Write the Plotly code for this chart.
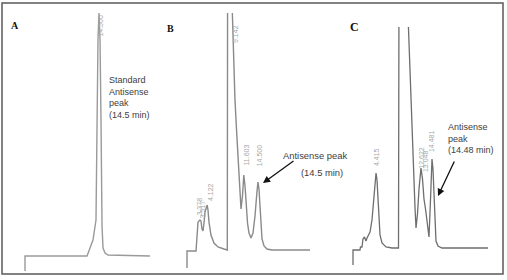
import plotly.graph_objects as go

# ---------------- data (retention time in min, detector signal in mV) ----------------
a_time = [0.0, 0.0, 12.15, 12.74, 13.32, 13.91, 14.11, 14.30, 14.50, 14.70, 14.89, 15.09, 15.29, 15.68, 16.26, 24.49]
a_signal = [-15, 0, 0, 8, 16, 36, 136, 216, 243, 216, 136, 30, 8, 3, 1, 0]

b_time = [0.0, 0.0, 1.84, 2.04, 2.25, 2.65, 2.86, 3.06, 3.27, 3.47, 3.68, 4.12, 4.29, 4.49, 4.90, 5.51,
          6.33, 7.56, 8.17, 8.23, 8.29, 9.142, 9.25, 9.46, 9.60, 9.80, 10.15, 10.48, 10.82, 11.03, 11.33,
          11.54, 11.603, 11.85, 12.05, 12.36, 12.66, 13.07, 13.48, 13.89, 14.30, 14.50, 14.70, 14.91,
          15.11, 15.32, 15.73, 16.34, 17.36, 25.12]
b_signal = [-17, 0, 0, 11, 29, 31, 30, 22, 20, 28, 39, 46, 41, 29, 16, 8,
            4, 2, 1, 1, 260, 900, 240, 201, 181, 151, 118, 84, 51, 42, 55,
            72, 76, 65, 46, 28, 18, 13, 18, 35, 60, 69, 62, 45,
            25, 12, 5, 2, 1, 1]

c_time = [0.0, 0.0, 1.28, 1.37, 1.65, 1.83, 2.11, 2.38, 2.57, 2.84, 3.12, 3.48, 3.85, 4.03, 4.22, 4.40,
          4.58, 4.77, 4.95, 5.32, 6.05, 7.15, 8.34, 8.43, 9.16, 10.04, 10.63, 10.87, 11.13, 11.36, 11.55,
          11.82, 12.10, 12.46, 12.74, 13.01, 13.29, 13.56, 13.93, 14.21, 14.39, 14.48, 14.66, 14.85,
          15.03, 15.21, 15.58, 16.31, 24.74]
c_signal = [-16, -1, -1, 2, 2, 10, 12, 8, 11, 14, 17, 29, 54, 69, 76, 69,
            49, 27, 14, 6, 2, 1, 1, 260, 900, 240, 149, 99, 66, 42, 21,
            35, 60, 81, 70, 50, 40, 25, 12, 50, 85, 90, 80, 50,
            20, 8, 3, 1, 1]

# printed retention-time labels (text, time, signal)
a_rt_text = ["14.500"]
a_rt_time = [14.62]
a_rt_sig = [230]

b_rt_text = ["3.378", "3.517", "4.122", "9.142", "11.603", "14.500"]
b_rt_time = [2.55, 3.15, 4.70, 9.80, 11.95, 14.77]
b_rt_sig = [45, 42, 59, 217, 96, 96]

c_rt_text = ["4.415", "12.622", "13.048", "14.481"]
c_rt_time = [4.22, 12.40, 13.20, 14.30]
c_rt_sig = [92, 91, 88, 108]

panel_letters = ["A", "B", "C"]
# ---------------------------------------------------------------------------------------

W, H = 507, 280
def px(x):
    return x / W
def py(y):
    return 1 - y / H

fig = go.Figure()
fig.add_trace(go.Scatter(x=a_time, y=a_signal, mode="lines", line=dict(color="#9a9a9a", width=1.4),
                         xaxis="x", yaxis="y", showlegend=False, hoverinfo="skip"))
fig.add_trace(go.Scatter(x=b_time, y=b_signal, mode="lines", line=dict(color="#8a8a8a", width=1.4),
                         xaxis="x2", yaxis="y2", showlegend=False, hoverinfo="skip"))
fig.add_trace(go.Scatter(x=c_time, y=c_signal, mode="lines", line=dict(color="#6e6e6e", width=1.3),
                         xaxis="x3", yaxis="y3", showlegend=False, hoverinfo="skip"))

hidden = dict(visible=False, showgrid=False, zeroline=False, fixedrange=True)
fig.update_layout(
    width=W, height=H, margin=dict(l=0, r=0, t=0, b=0),
    paper_bgcolor="white", plot_bgcolor="rgba(0,0,0,0)",
    xaxis=dict(domain=[px(15), px(160)], range=[-1.96, 26.45], anchor="y", **hidden),
    yaxis=dict(domain=[0, 1], range=[-24, 256], anchor="x", **hidden),
    xaxis2=dict(domain=[px(177), px(320)], range=[-2.042, 27.163], anchor="y2", **hidden),
    yaxis2=dict(domain=[0, py(13)], range=[-29, 238], anchor="x2", **hidden),
    xaxis3=dict(domain=[px(343), px(500)], range=[-1.833, 26.944], anchor="y3", **hidden),
    yaxis3=dict(domain=[0, py(27)], range=[-31, 222], anchor="x3", **hidden),
    font=dict(family="Liberation Sans, Arial, sans-serif"),
)

# outer frame
fig.add_shape(type="rect", xref="paper", yref="paper", x0=px(2), x1=px(503), y0=py(274), y1=py(3),
              line=dict(color="#5a5a5a", width=1.5))

ann = []
# retention-time labels
for texts, ts, ss, xr, yr in [(a_rt_text, a_rt_time, a_rt_sig, "x", "y"),
                              (b_rt_text, b_rt_time, b_rt_sig, "x2", "y2"),
                              (c_rt_text, c_rt_time, c_rt_sig, "x3", "y3")]:
    for t, x, y in zip(texts, ts, ss):
        ann.append(dict(text=t, x=x, y=y, xref=xr, yref=yr, showarrow=False, textangle=-90,
                        font=dict(size=7, color="#a8a8a8"), xanchor="center", yanchor="middle"))

# panel letters
for letter, (lx, ly, sz) in zip(panel_letters, [(15, 25, 10), (170, 29, 10), (354, 27, 12)]):
    ann.append(dict(text="<b>" + letter + "</b>", x=px(lx), y=py(ly), xref="paper", yref="paper",
                    showarrow=False, font=dict(family="Liberation Serif, Times New Roman, serif", size=sz,
                                               color="#111"), xanchor="center", yanchor="middle"))

txtfont = dict(size=9, color="#404040", family="Liberation Sans, Arial, sans-serif")
ann.append(dict(text="Standard<br>Antisense<br>peak<br>(14.5 min)", x=px(107), y=py(97.5),
                xref="paper", yref="paper", showarrow=False, align="left", xanchor="left",
                yanchor="middle", font=txtfont))
ann.append(dict(text="Antisense peak", x=px(315), y=py(155), xref="paper", yref="paper",
                showarrow=False, xanchor="center", yanchor="middle", font=dict(txtfont, size=9.4)))
ann.append(dict(text="(14.5 min)", x=px(321.5), y=py(172), xref="paper", yref="paper",
                showarrow=False, xanchor="center", yanchor="middle", font=dict(txtfont, size=9.4)))
ann.append(dict(text="Antisense<br>peak<br>(14.48 min)", x=px(446), y=py(138), xref="paper", yref="paper",
                showarrow=False, align="left", xanchor="left", yanchor="middle", font=txtfont))

# arrows pointing at the antisense peaks
ann.append(dict(text="", x=15.52, y=68, xref="x2", yref="y2", showarrow=True, ax=32, ay=-23,
                arrowhead=2, arrowsize=1.1, arrowwidth=1.3, arrowcolor="#111", standoff=0))
ann.append(dict(text="", x=15.58, y=53, xref="x3", yref="y3", showarrow=True, ax=17, ay=-36,
                arrowhead=2, arrowsize=1.1, arrowwidth=1.3, arrowcolor="#111", standoff=0))

fig.update_layout(annotations=ann)
fig.write_html("out.html")
